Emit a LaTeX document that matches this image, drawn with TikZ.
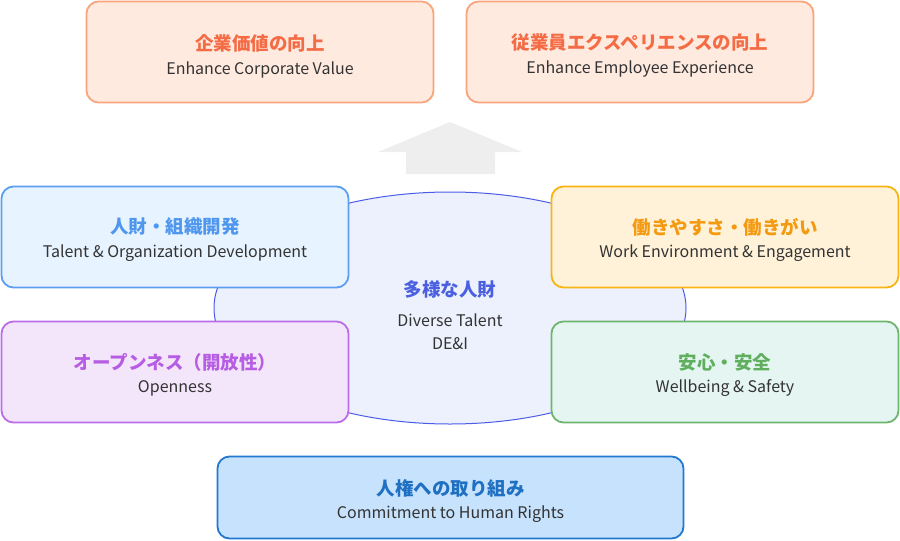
\documentclass[tikz,border=0pt]{standalone}
\usepackage{fontspec}
\setmainfont{Noto Sans CJK JP}
\usetikzlibrary{shapes.geometric}
\definecolor{txt}{HTML}{333333}
\definecolor{orF}{HTML}{FFEAE0}\definecolor{orD}{HTML}{F8A47C}\definecolor{orT}{HTML}{F46C45}
\definecolor{blF}{HTML}{E7F3FE}\definecolor{blD}{HTML}{5C9EF0}\definecolor{blT}{HTML}{4F97EE}
\definecolor{ylF}{HTML}{FFF2D9}\definecolor{ylD}{HTML}{F8B412}\definecolor{ylT}{HTML}{F39A10}
\definecolor{puF}{HTML}{F4E6FA}\definecolor{puD}{HTML}{BC6CEA}\definecolor{puT}{HTML}{B65DE4}
\definecolor{grF}{HTML}{E5F5F1}\definecolor{grD}{HTML}{6DB46D}\definecolor{grT}{HTML}{5FAF5F}
\definecolor{dbF}{HTML}{C6E2FC}\definecolor{dbD}{HTML}{2277CE}\definecolor{dbT}{HTML}{1F70C2}
\definecolor{elF}{HTML}{EDF1FD}\definecolor{elD}{HTML}{4B5DE8}\definecolor{elT}{HTML}{4A60E0}
\definecolor{arF}{HTML}{EEEEEE}
\tikzset{
  card/.style={rounded corners=12pt, line width=1.8pt, inner sep=0pt, minimum width=347pt, minimum height=101pt},
  ttl/.style={inner sep=0pt, font=\fontsize{18.5}{22}\selectfont\bfseries},
  sub/.style={inner sep=0pt, text=txt, font=\fontsize{16}{19}\selectfont},
}
\begin{document}
\begin{tikzpicture}[x=1pt,y=-1pt]
\useasboundingbox (0,0) rectangle (900,541);
% central ellipse
\node[ellipse, draw=elD, fill=elF, line width=1pt, inner sep=0pt, minimum width=472pt, minimum height=232pt] (el) at (450,308) {};
% arrow
\fill[arF] (450,122) -- (522,152) -- (495,152) -- (495,174) -- (406,174) -- (406,152) -- (378,152) -- cycle;
% top cards
\node[card, draw=orD, fill=orF] (v1) at (260,52) {};
\node[ttl, text=orT] (v1t) at ([yshift=9pt]v1.center) {企業価値の向上};
\node[sub] (v1s) at ([yshift=-17.5pt]v1.center) {Enhance Corporate Value};
\node[card, draw=orD, fill=orF] (v2) at (640,52) {};
\node[ttl, text=orT] (v2t) at ([yshift=9pt]v2.center) {従業員エクスペリエンスの向上};
\node[sub] (v2s) at ([yshift=-17.5pt]v2.center) {Enhance Employee Experience};
% left cards
\node[card, draw=blD, fill=blF] (b1) at (175,237) {};
\node[ttl, text=blT] (b1t) at ([yshift=10pt]b1.center) {人財・組織開発};
\node[sub] (b1s) at ([yshift=-16.5pt]b1.center) {Talent \& Organization Development};
\node[card, draw=puD, fill=puF] (b2) at (175,372) {};
\node[ttl, text=puT] (b2t) at ([yshift=10pt]b2.center) {オープンネス（開放性）};
\node[sub] (b2s) at ([yshift=-16.5pt]b2.center) {Openness};
% right cards
\node[card, draw=ylD, fill=ylF] (b3) at (725,237) {};
\node[ttl, text=ylT] (b3t) at ([yshift=10pt]b3.center) {働きやすさ・働きがい};
\node[sub] (b3s) at ([yshift=-16.5pt]b3.center) {Work Environment \& Engagement};
\node[card, draw=grD, fill=grF] (b4) at (725,372) {};
\node[ttl, text=grT] (b4t) at ([yshift=10pt]b4.center) {安心・安全};
\node[sub] (b4s) at ([yshift=-16.5pt]b4.center) {Wellbeing \& Safety};
% bottom card
\node[card, draw=dbD, fill=dbF, minimum width=466pt, minimum height=82pt] (hr) at (450.5,497.5) {};
\node[ttl, text=dbT] (hrt) at ([yshift=9pt]hr.center) {人権への取り組み};
\node[sub] (hrs) at ([yshift=-17pt]hr.center) {Commitment to Human Rights};
% center text
\node[ttl, text=elT] (ct) at (450,289) {多様な人財};
\node[sub] (cs1) at (450,320) {Diverse Talent};
\node[sub] (cs2) at (450,344) {DE\&I};
\end{tikzpicture}
\end{document}
